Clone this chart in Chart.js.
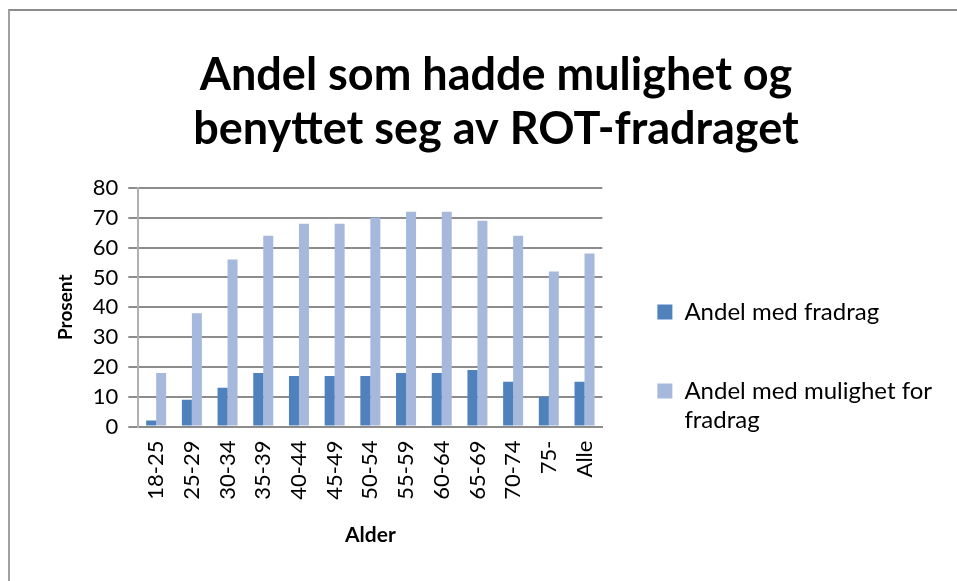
<!DOCTYPE html>
<html>
<head>
<meta charset="utf-8">
<script src="https://cdn.jsdelivr.net/npm/chart.js@4/dist/chart.umd.min.js"></script>
<style>
  body { margin: 0; background: #fff; }
  #wrap { position: relative; width: 957px; height: 581px; }
  #frame { position: absolute; left: 8px; top: 9px; right: 0; bottom: 0; border-top: 2px solid #8c8c8c; border-left: 2px solid #a0a0a0; pointer-events: none; }
</style>
</head>
<body>
<div id="wrap">
  <canvas id="myChart" width="957" height="581"></canvas>
  <div id="frame"></div>
</div>
<script>
var categories = ['18-25', '25-29', '30-34', '35-39', '40-44', '45-49', '50-54', '55-59', '60-64', '65-69', '70-74', '75-', 'Alle'];
var medFradrag = [2, 9, 13, 18, 17, 17, 17, 18, 18, 19, 15, 10, 15];
var medMulighet = [18, 38, 56, 64, 68, 68, 70, 72, 72, 69, 64, 52, 58];
var yTicks = [0, 10, 20, 30, 40, 50, 60, 70, 80];

var font = 'Lato, "Open Sans", sans-serif';
Chart.defaults.font.family = font;
Chart.defaults.color = '#000';

var ctx = document.getElementById('myChart');
var myChart = new Chart(ctx, {
    type: 'bar',
    data: {
        labels: categories,
        datasets: [{
            label: 'Andel med fradrag',
            data: medFradrag,
            backgroundColor: '#4f81bd',
            categoryPercentage: 0.56,
            barPercentage: 1
        }, {
            label: ['Andel med mulighet for', 'fradrag'],
            data: medMulighet,
            backgroundColor: '#a6b9dc',
            categoryPercentage: 0.56,
            barPercentage: 1
        }]
    },
    options: {
        responsive: false,
        animation: false,
        layout: { padding: { left: 50, right: 15, top: 40, bottom: 29 } },
        plugins: {
            title: {
                display: true,
                text: ['Andel som hadde mulighet og', 'benyttet seg av ROT-fradraget'],
                font: { size: 45, weight: 'bold', lineHeight: 1.2 },
                color: '#000',
                padding: { top: 8, bottom: 32 }
            },
            legend: {
                position: 'right',
                align: 'start',
                maxWidth: 400,
                title: { display: true, text: ' ', font: { size: 10, lineHeight: 1.2 }, padding: { top: 0, bottom: 193 } },
                labels: {
                    boxWidth: 15,
                    boxHeight: 15,
                    padding: 55,
                    font: { size: 24 },
                    color: '#000'
                }
            },
            tooltip: { enabled: false }
        },
        scales: {
            x: {
                grid: { display: false },
                border: { color: '#8c8c8c', width: 2 },
                ticks: { minRotation: 90, maxRotation: 90, font: { size: 22 }, autoSkip: false, padding: 6 },
                title: { display: true, text: 'Alder', font: { size: 21, weight: 'bold' }, padding: { top: 17 } }
            },
            y: {
                min: 0,
                max: 80,
                afterBuildTicks: function (axis) { axis.ticks = yTicks.map(function (v) { return { value: v }; }); },
                grid: { color: '#8c8c8c', lineWidth: 2, tickLength: 10 },
                border: { color: '#b0b0b0', width: 2 },
                ticks: { font: { size: 22 }, padding: 10 },
                title: { display: true, text: 'Prosent', font: { size: 19, weight: 'bold' }, padding: { bottom: 6 } }
            }
        }
    }
});
window.chart = myChart;
</script>
</body>
</html>
